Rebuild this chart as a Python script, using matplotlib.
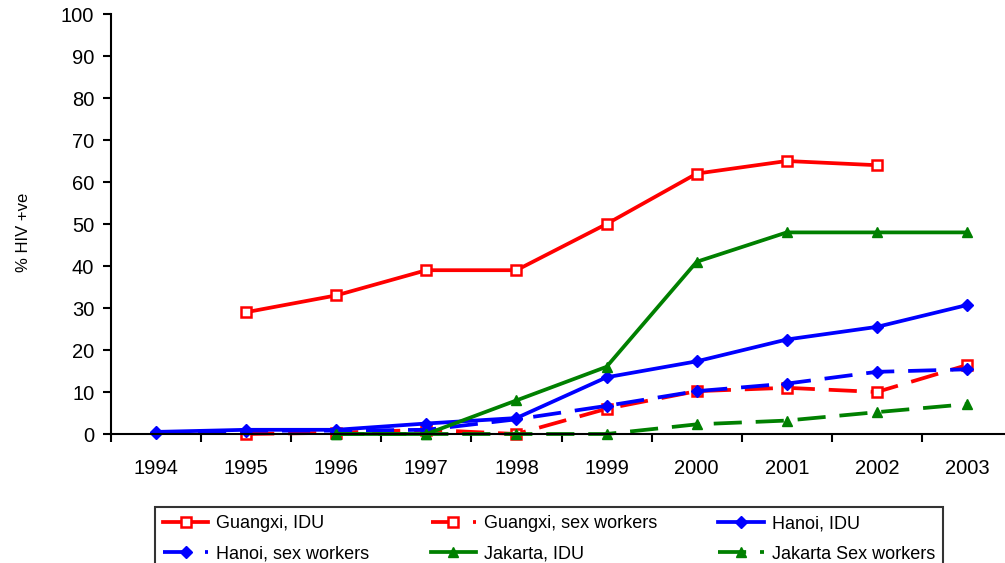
import numpy as np
import matplotlib
matplotlib.use('Agg')
import matplotlib.pyplot as plt

plt.rcParams['font.family'] = ['Liberation Sans', 'DejaVu Sans']

years = ['1994', '1995', '1996', '1997', '1998', '1999', '2000', '2001', '2002', '2003']
nan = np.nan

guangxi_idu = [nan, 29, 33, 39, 39, 50, 62, 65, 64, nan]
guangxi_sw = [nan, 0, 0.3, 1, 0, 6, 10.2, 11, 10, 16.4]
hanoi_idu = [0.5, 1, 1, 2.5, 3.8, 13.5, 17.3, 22.5, 25.5, 30.7]
hanoi_sw = [0.3, 0.8, 0.8, 1, 3.5, 6.7, 10.2, 12, 14.8, 15.4]
jakarta_idu = [nan, nan, 0, 0, 8, 16, 41, 48, 48, 48]
jakarta_sw = [nan, nan, 0, 0, 0, 0, 2.3, 3.2, 5.2, 7.1]

fig = plt.figure(figsize=(10.05, 5.63), dpi=100)
ax = fig.add_axes([111 / 1005, 1 - 434 / 563, (1012 - 111) / 1005, 420 / 563])

x = np.arange(len(years))
lw = 2.7
dash = (7.5, 3.7)

l1, = ax.plot(x, guangxi_idu, color='#ff0000', lw=lw, marker='s', ms=6.5,
              mfc='white', mec='#ff0000', mew=1.8, label='Guangxi, IDU', clip_on=False)
l2, = ax.plot(x, guangxi_sw, color='#ff0000', lw=lw, dashes=dash, marker='s', ms=6.5,
              mfc='white', mec='#ff0000', mew=1.8, label='Guangxi, sex workers', clip_on=False)
l3, = ax.plot(x, hanoi_idu, color='#0000ff', lw=lw, marker='D', ms=6.5,
              label='Hanoi, IDU', clip_on=False)
l4, = ax.plot(x, hanoi_sw, color='#0000ff', lw=lw, dashes=dash, marker='D', ms=6.5,
              label='Hanoi, sex workers', clip_on=False)
l5, = ax.plot(x, jakarta_idu, color='#008000', lw=lw, marker='^', ms=7.5,
              label='Jakarta, IDU', clip_on=False)
l6, = ax.plot(x, jakarta_sw, color='#008000', lw=lw, dashes=dash, marker='^', ms=7.5,
              label='Jakarta Sex workers', clip_on=False)

ax.set_xlim(-0.5, 9.5)
ax.set_ylim(0, 100)
ax.set_yticks(range(0, 101, 10))
ax.set_xticks(x)
ax.set_xticklabels(years)
ax.set_xticks(np.arange(-0.5, 9.6, 1), minor=True)
ax.tick_params(axis='x', which='major', length=0, pad=18, labelsize=14.5)
ax.tick_params(axis='x', which='minor', length=6, width=1.5, direction='out')
ax.tick_params(axis='y', length=6, width=1.5, direction='out', labelsize=14.5, pad=6)
for s in ['top', 'right']:
    ax.spines[s].set_visible(False)
for s in ['left', 'bottom']:
    ax.spines[s].set_linewidth(1.5)
ax.set_ylabel('% HIV +ve', fontsize=12)
ax.yaxis.set_label_coords(-0.089, 0.48)

# row-major order like the original legend
handles = [l1, l4, l2, l5, l3, l6]
leg = fig.legend(handles=handles, labels=[h.get_label() for h in handles],
                 loc='upper left', bbox_to_anchor=(155 / 1005, -0.3, 788 / 1005, 0.3995),
                 mode='expand', ncol=3, frameon=True, fancybox=False, fontsize=13,
                 handlelength=2.5, handletextpad=0.45, labelspacing=0.75,
                 borderpad=0.45, borderaxespad=0, columnspacing=0.8)
leg.get_frame().set_edgecolor('black')
leg.get_frame().set_linewidth(1.5)

fig.savefig('out.png', dpi=100)
